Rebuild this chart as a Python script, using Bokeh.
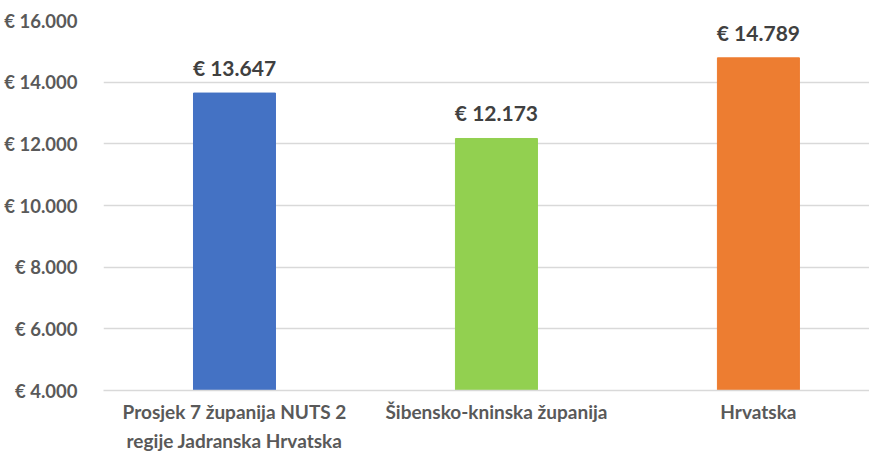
from bokeh.plotting import figure
from bokeh.models import Range1d, FixedTicker, ColumnDataSource, LabelSet
from bokeh.core.properties import value
from bokeh.embed import file_html
from bokeh.resources import INLINE

categories = ["Prosjek 7 županija NUTS 2\nregije Jadranska Hrvatska",
              "Šibensko-kninska županija",
              "Hrvatska"]
values = [13647, 12173, 14789]
value_labels = ["€ 13.647", "€ 12.173", "€ 14.789"]
colors = ["#4472C4", "#92D050", "#ED7D31"]
y_ticks = [4000, 6000, 8000, 10000, 12000, 14000, 16000]
y_tick_labels = ["€ 4.000", "€ 6.000", "€ 8.000", "€ 10.000", "€ 12.000", "€ 14.000", "€ 16.000"]

FONT = "Lato"

xpos = [i + 0.5 for i in range(len(categories))]
src = ColumnDataSource(dict(x=xpos, top=values, lab=value_labels, color=colors))

p = figure(width=869, height=455, output_backend="svg", toolbar_location=None,
           x_range=Range1d(0, 2.924), y_range=Range1d(4000, 16000),
           min_border_left=103, min_border_right=0, min_border_top=20, min_border_bottom=10)
p.outline_line_color = None
p.background_fill_color = "white"

p.vbar(x="x", top="top", bottom=4000, width=0.313, color="color", source=src)

labels = LabelSet(x="x", y="top", text="lab", source=src, text_align="center",
                  text_baseline="bottom", y_offset=13, text_font=value(FONT),
                  text_font_style="bold", text_font_size="21px", text_color="#404040")
p.add_layout(labels)

p.yaxis.ticker = FixedTicker(ticks=y_ticks)
p.yaxis.major_label_overrides = {t: l for t, l in zip(y_ticks, y_tick_labels)}
p.yaxis.axis_line_color = None
p.yaxis.major_tick_line_color = None
p.yaxis.minor_tick_line_color = None
p.yaxis.major_label_standoff = 20
p.yaxis.major_label_text_font = FONT
p.yaxis.major_label_text_font_style = "bold"
p.yaxis.major_label_text_font_size = "18.5px"
p.yaxis.major_label_text_color = "#595959"

p.xaxis.ticker = FixedTicker(ticks=xpos)
p.xaxis.major_label_overrides = {x: c for x, c in zip(xpos, categories)}
p.xaxis.axis_line_color = "#d9d9d9"
p.xaxis.axis_line_width = 1.5
p.xaxis.major_tick_line_color = None
p.xaxis.minor_tick_line_color = None
p.xaxis.major_label_standoff = 3
p.xaxis.major_label_text_font = FONT
p.xaxis.major_label_text_font_style = "bold"
p.xaxis.major_label_text_font_size = "19px"
p.xaxis.major_label_text_line_height = 1.3
p.xaxis.major_label_text_color = "#595959"

p.xgrid.grid_line_color = None
p.ygrid.grid_line_color = "#d9d9d9"
p.ygrid.grid_line_width = 1.5

open("out.html", "w").write(file_html(p, INLINE))
